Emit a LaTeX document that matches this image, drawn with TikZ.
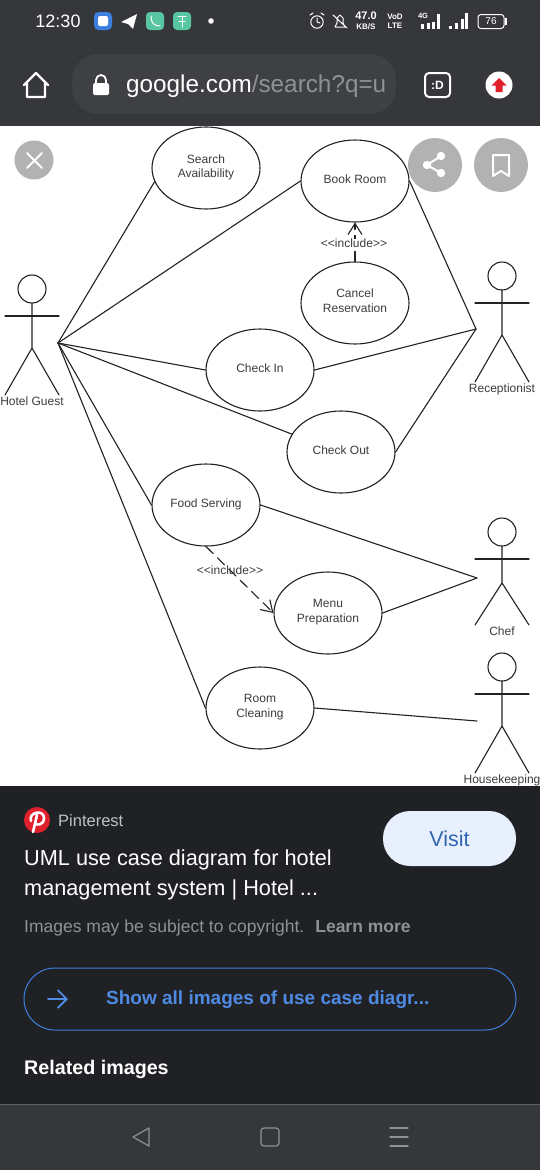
\documentclass[tikz,border=0pt]{standalone}
\usepackage{fontspec}
\setmainfont{Liberation Sans}
\usetikzlibrary{arrows.meta,shapes.geometric}
\definecolor{HSbar}{HTML}{36373B}
\definecolor{HSpill}{HTML}{3F4044}
\definecolor{HSpanel}{HTML}{202125}
\definecolor{HSrule}{HTML}{5F6165}
\definecolor{HSink}{HTML}{222222}
\definecolor{HStext}{HTML}{3C3C3C}
\definecolor{HSover}{HTML}{B2B2B2}
\definecolor{HSgreen}{HTML}{58C6A0}
\definecolor{HSblue}{HTML}{3C7FDE}
\definecolor{HSlink}{HTML}{4F8AE2}
\definecolor{HSred}{HTML}{E0202C}
\definecolor{HSgrey}{HTML}{8F9195}
\definecolor{HSsoft}{HTML}{BDC0C4}
\definecolor{HSvisit}{HTML}{E8F0FD}
\newcommand{\stickman}[6]{%
  \begin{scope}[shift={(#1,#2)},draw=HSink,line width=1.1pt]
    \draw (0,0) circle (14);
    \draw (-27,27) -- (27,27);
    \draw (0,14) -- (0,#3) (-27,#4) -- (0,#3) -- (27,#4);
    \node[role] (#5) at (0,#4+7) {#6};
  \end{scope}}
\newcommand{\callicon}[2]{%
  \begin{scope}[shift={(#1,#2)}]
    \fill[HSgreen,rounded corners=4] (-9,-9) rectangle (9,9);
  \end{scope}}
\newcommand{\overlaycircle}[3]{\fill[HSover] (#1,#2) circle (#3);}
\newcommand{\incl}{{<}{<}include{>}{>}}

\begin{document}
\begin{tikzpicture}[
  x=1pt,y=-1pt,
  line cap=round,line join=round,
  usecase/.style={ellipse,draw=HSink,line width=1.1pt,fill=white,minimum width=108,
    minimum height=82,inner sep=0pt,align=center,text=HStext,text depth=4pt,
    font=\fontsize{12}{15}\selectfont},
  role/.style={text=HStext,inner sep=0pt,text height=8.5pt,text depth=2.5pt,
    font=\fontsize{12}{14}\selectfont},
  assoc/.style={draw=HSink,line width=1.1pt},
  includes/.style={draw=HSink,line width=1.1pt,dash pattern=on 10pt off 6pt,
    -{Straight Barb[length=11pt,width=14pt]}},
  stereo/.style={text=HStext,inner sep=0pt,font=\fontsize{12}{14}\selectfont},
  status/.style={text=white,inner sep=0pt,font=\fontsize{18}{20}\selectfont},
  tiny/.style={text=white,inner sep=0pt,font=\bfseries\fontsize{9}{10}\selectfont},
  pagetext/.style={text=white,anchor=west,inner sep=0pt,font=\fontsize{21.7}{24}\selectfont},
  navicon/.style={draw=HSgrey,line width=1.2pt}
]
\useasboundingbox (0,0) rectangle (540,1170);

% page bands
\fill[HSbar] (0,0) rectangle (540,126);
\fill[white] (0,126) rectangle (540,786);
\fill[HSpanel] (0,786) rectangle (540,1104);
\fill[HSbar] (0,1104) rectangle (540,1170);
\draw[HSrule,line width=0.8pt] (0,1104) -- (540,1104);

% status bar
\node[status] (clock) at (58,21) {12:30};
\fill[HSblue,rounded corners=4.5] (94,12) rectangle (112,30);
\fill[white,rounded corners=2] (98,16) rectangle (108,26);
\fill[white] (121,22) -- (137,14) -- (133,29) -- (128,24) -- cycle;
\callicon{155}{21}
\draw[white,line width=1pt] (151,16) .. controls (151,23) and (154,26) .. (160,26);
\callicon{182}{21}
\draw[white,line width=1pt] (178,16) -- (186,16) (182,16) -- (182,27) (179,21) -- (185,21);
\fill[white] (211,21) circle (2.8);
\draw[white,line width=1pt] (317,22) circle (6.2) (317,18) -- (317,22) -- (320,23)
  (310,15) -- (313,13) (324,15) -- (321,13);
\draw[white,line width=1pt] (335,27) -- (337,23) -- (337,18) -- (340,15) -- (343,18) -- (343,23)
  -- (345,27) -- cycle (333,15) -- (347,28);
\node[tiny,font=\bfseries\fontsize{11}{12}\selectfont] (speed) at (366,16) {47.0};
\node[tiny,font=\bfseries\fontsize{8}{9}\selectfont] (speedunit) at (366,26.5) {KB/S};
\node[tiny,font=\bfseries\fontsize{8}{9}\selectfont] (volte) at (395,16.5) {VoD};
\node[tiny,font=\bfseries\fontsize{8}{9}\selectfont] (lte) at (395,26) {LTE};
\node[tiny,font=\bfseries\fontsize{7.5}{9}\selectfont] (fourg) at (423,16) {4G};
\foreach \x/\h in {421/5,427/6,432/7,437/15,449/3,455/6,461/10,465/16}{
  \fill[white] (\x,29) rectangle (\x+2.6,29-\h);}
\draw[white,line width=1pt,rounded corners=3] (478,14.5) rectangle (504,28.5);
\fill[white] (505,18) rectangle (507,25);
\node[tiny,font=\fontsize{10}{11}\selectfont] (battery) at (491,21.5) {76};

% address bar
\draw[white,line width=2.2pt,line join=round] (24,85) -- (36,73) -- (48,85) (27,83) -- (27,97) -- (45,97) -- (45,83);
\fill[HSpill,rounded corners=26] (72,54) rectangle (396,114);
\fill[white,rounded corners=1.5] (93,83) rectangle (109,95);
\draw[white,line width=1.8pt] (96,83) -- (96,80) arc (180:360:5) -- (106,83);
\node[text=white,anchor=west,inner sep=0pt,font=\fontsize{24.3}{28}\selectfont] (address) at (126,86.5)
  {google.com\textcolor{HSgrey}{/search?q=u}};
\draw[white,line width=2pt,rounded corners=4] (425,73) rectangle (450,97);
\node[tiny,font=\bfseries\fontsize{12}{13}\selectfont] (tabs) at (437.5,85) {:D};
\fill[white] (499,85) circle (13.5);
\fill[HSred] (499,78) -- (506.5,85.5) -- (502.5,85.5) -- (502.5,92) -- (495.5,92) -- (495.5,85.5) -- (491.5,85.5) -- cycle;

% use cases
\node[usecase] (search) at (206,168) {Search\\[-1pt]Availability};
\node[usecase] (book) at (355,181) {Book Room};
\node[usecase] (cancel) at (355,303) {Cancel\\Reservation};
\node[usecase] (checkin) at (260,370) {Check In};
\node[usecase] (checkout) at (341,452) {Check Out};
\node[usecase] (food) at (206,505) {Food Serving};
\node[usecase] (menu) at (328,613) {Menu\\Preparation};
\node[usecase] (cleaning) at (260,708) {Room\\Cleaning};

% actors
\stickman{32}{289}{59}{106}{guest}{Hotel Guest}
\stickman{502}{276}{59}{106}{receptionist}{Receptionist}
\stickman{502}{532}{51}{93}{chef}{Chef}
\stickman{502}{667}{59}{106}{housekeeping}{Housekeeping}

\coordinate (guestport) at (58,343);
\coordinate (deskport) at (476,329);
\coordinate (chefport) at (477,578);
\coordinate (cleanport) at (477,721);

\foreach \target/\side in {search/195,book/180,checkin/180,checkout/160,food/180,cleaning/180}{
  \draw[assoc] (guestport) -- (\target.\side);}
\foreach \target in {book,checkin,checkout}{
  \draw[assoc] (\target.east) -- (deskport);}
\foreach \target in {food,menu}{
  \draw[assoc] (\target.east) -- (chefport);}
\draw[assoc] (cleaning.east) -- (cleanport);

\draw[includes] (cancel.north) -- (book.south);
\node[stereo,fill=white,inner xsep=1pt] (cancelinc) at (354,243) {\incl};
\draw[includes] (food.south) -- (menu.west);
\node[stereo] (foodinc) at (230,570) {\incl};

% image overlay buttons
\overlaycircle{34}{160}{19.5}
\draw[white,line width=2pt] (27,153) -- (42,168) (42,153) -- (27,168);
\overlaycircle{435}{165}{27}
\draw[white,line width=2pt] (441,156) -- (427,165) -- (441,173);
\fill[white] (441,156) circle (4.2) (427,165) circle (4.2) (441,173) circle (4.2);
\overlaycircle{501}{165}{27}
\draw[white,line width=2pt] (493,155) -- (509,155) -- (509,176) -- (501,171) -- (493,176) -- cycle;

% result panel
\fill[HSred] (37,820) circle (13);
\draw[white,line width=2.6pt] (37,815) -- (33,832) (31,821) .. controls (28,812) and (44,809) .. (44,818)
  .. controls (44,825) and (37,826) .. (35,823);
\node[pagetext,text=HSsoft,font=\fontsize{16.5}{20}\selectfont] (source) at (58,820.5) {Pinterest};
\node[pagetext] (titleone) at (24,859.5) {UML use case diagram for hotel};
\node[pagetext] (titletwo) at (24,889.5) {management system | Hotel ...};
\node[pagetext,text=HSgrey,font=\fontsize{17.5}{20}\selectfont] (notice) at (24,927.5)
  {Images may be subject to copyright.\hspace{11pt}\textbf{Learn more}};
\node[fill=HSvisit,rounded corners=27,minimum width=133,minimum height=55,inner sep=0pt,
  text=HSblue!80!black,font=\fontsize{21.5}{24}\selectfont] (visit) at (449.5,838.5) {Visit};
\node[draw=HSblue,line width=1pt,rounded corners=31,minimum width=492,minimum height=62,
  inner sep=0pt] (showall) at (270,999) {};
\coordinate (arrowtail) at (48,999);
\coordinate (arrowhead) at (68,999);
\draw[HSlink,line width=1.8pt,-{Straight Barb[length=9pt,width=18pt]}] (arrowtail) -- (arrowhead);
\node[pagetext,text=HSlink,font=\bfseries\fontsize{19}{24}\selectfont] (showtext) at (106,999.5)
  {Show all images of use case diagr...};
\node[pagetext,font=\bfseries\fontsize{19.7}{24}\selectfont] (related) at (24,1069.5) {Related images};

% nav bar
\draw[navicon] (149,1128) -- (133,1137) -- (149,1146) -- cycle;
\draw[navicon,rounded corners=3] (261,1128) rectangle (279,1146);
\foreach \y in {1128,1137,1146}{\draw[navicon] (390,\y) -- (408,\y);}

\end{tikzpicture}
\end{document}
